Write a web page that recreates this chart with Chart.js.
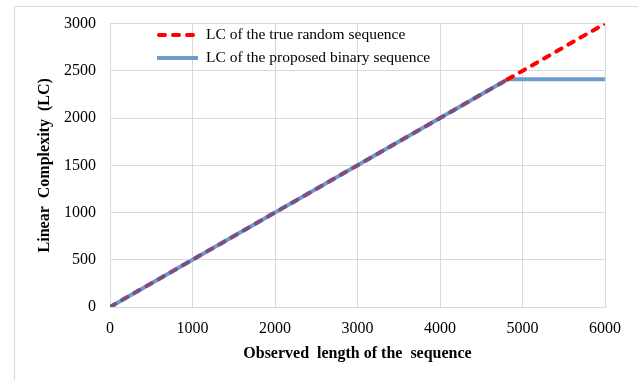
<!DOCTYPE html>
<html lang="en">
<head>
    <meta charset="UTF-8">
    <title>Linear Complexity</title>
    <script src="https://cdn.jsdelivr.net/npm/chart.js"></script>
    <style>
        html, body { margin: 0; padding: 0; background: #fff; }
    </style>
</head>
<body>
    <canvas id="lcChart" width="638" height="380"></canvas>

    <script>
        // Data
        const lengthsRandom = [0, 4820, 6000];
        const lcRandom = [0, 2410, 3000];
        const lengthsProposed = [0, 4820, 6000];
        const lcProposed = [0, 2410, 2410];
        const seriesLabels = ['LC of the true random sequence', 'LC of the proposed binary sequence'];
        const xTicks = [0, 1000, 2000, 3000, 4000, 5000, 6000];
        const yTicks = [0, 500, 1000, 1500, 2000, 2500, 3000];

        const toPoints = (xs, ys) => xs.map((x, i) => ({ x: x, y: ys[i] }));

        const serif = "'Liberation Serif', 'DejaVu Serif', serif";
        const gridColor = '#d9d9d9';
        const redColor = '#ff0000';
        const blueColor = '#6e9bcd';

        // outer frame (only top and left edge visible in the picture)
        const framePlugin = {
            id: 'frame',
            beforeDraw(chart) {
                const ctx = chart.ctx;
                ctx.save();
                ctx.strokeStyle = '#d9d9d9';
                ctx.lineWidth = 1;
                ctx.beginPath();
                ctx.moveTo(14.5, 380);
                ctx.lineTo(14.5, 6.5);
                ctx.lineTo(638, 6.5);
                ctx.stroke();
                ctx.restore();
            }
        };

        // legend drawn inside the plot area, top-left
        const insideLegend = {
            id: 'insideLegend',
            afterDatasetsDraw(chart) {
                const ctx = chart.ctx;
                const x0 = 157, y0 = 35, rowH = 23, sampleW = 41;
                const order = [1, 0]; // red first, then blue
                ctx.save();
                order.forEach((di, i) => {
                    const ds = chart.data.datasets[di];
                    const y = y0 + i * rowH;
                    ctx.beginPath();
                    ctx.lineWidth = ds.borderWidth;
                    ctx.strokeStyle = ds.legendColor;
                    ctx.lineCap = ds.borderDash ? 'round' : 'butt';
                    ctx.setLineDash(ds.borderDash || []);
                    ctx.moveTo(x0 + (ds.borderDash ? 2 : 0), y);
                    ctx.lineTo(x0 + sampleW, y);
                    ctx.stroke();
                    ctx.setLineDash([]);
                    ctx.fillStyle = '#000';
                    ctx.font = '15.5px ' + serif;
                    ctx.textBaseline = 'middle';
                    ctx.fillText(ds.label, x0 + sampleW + 8, y);
                });
                ctx.restore();
            }
        };

        new Chart(document.getElementById('lcChart'), {
            type: 'scatter',
            data: {
                datasets: [{
                    label: seriesLabels[1],
                    data: toPoints(lengthsProposed, lcProposed),
                    showLine: true,
                    borderColor: blueColor,
                    legendColor: blueColor,
                    borderWidth: 4,
                    pointRadius: 0,
                    order: 1
                }, {
                    label: seriesLabels[0],
                    data: toPoints(lengthsRandom, lcRandom),
                    showLine: true,
                    borderColor: redColor,
                    legendColor: redColor,
                    borderWidth: 4,
                    borderDash: [6, 8],
                    borderCapStyle: 'round',
                    pointRadius: 0,
                    order: 0,
                    segment: {
                        // where it sits on the blue line the dashes look purple
                        borderColor: c => c.p1.parsed.x <= lengthsProposed[1] ? 'rgba(128,70,120,0.9)' : redColor
                    }
                }]
            },
            options: {
                responsive: false,
                animation: false,
                layout: { padding: { top: 22, right: 33, left: 0, bottom: 0 } },
                plugins: {
                    legend: { display: false },
                    tooltip: { enabled: false }
                },
                scales: {
                    x: {
                        type: 'linear',
                        min: 0,
                        max: 6000,
                        afterBuildTicks: s => { s.ticks = xTicks.map(v => ({ value: v })); },
                        afterFit: s => { s.height = 73; },
                        grid: { color: gridColor, drawTicks: false },
                        border: { color: gridColor },
                        ticks: {
                            padding: 12, color: '#000', autoSkip: false, maxRotation: 0,
                            font: { family: serif, size: 16 },
                            callback: v => String(v)
                        },
                        title: {
                            display: true,
                            text: 'Observed  length of the  sequence',
                            color: '#000',
                            padding: { top: 0, bottom: 17 },
                            font: { family: serif, size: 16, weight: 'bold' }
                        }
                    },
                    y: {
                        type: 'linear',
                        min: 0,
                        max: 3000,
                        afterBuildTicks: s => { s.ticks = yTicks.map(v => ({ value: v })); },
                        afterFit: s => { s.width = 110; },
                        grid: { color: gridColor, drawTicks: false },
                        border: { color: gridColor },
                        ticks: {
                            padding: 14, color: '#000', autoSkip: false,
                            font: { family: serif, size: 16 },
                            callback: v => String(v)
                        },
                        title: {
                            display: true,
                            text: 'Linear  Complexity  (LC)',
                            color: '#000',
                            padding: { top: 35, bottom: 0 },
                            font: { family: serif, size: 16, weight: 'bold' }
                        }
                    }
                }
            },
            plugins: [framePlugin, insideLegend]
        });
    </script>
</body>
</html>
